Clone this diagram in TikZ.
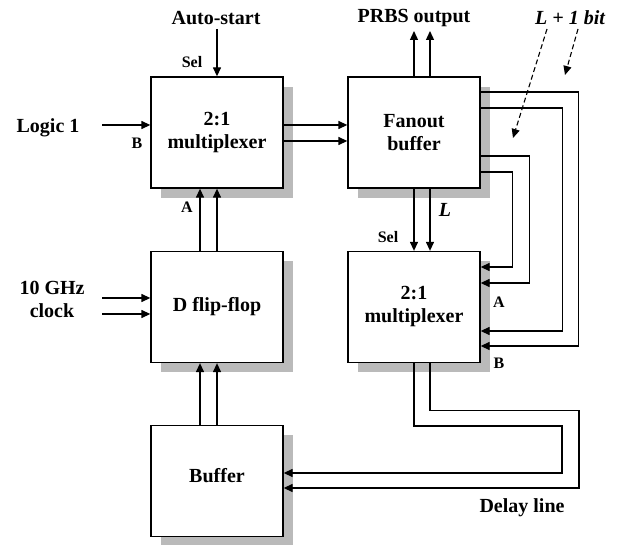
\documentclass[tikz,border=0pt]{standalone}
\usepackage{fontspec}
\setmainfont{Liberation Serif}
\usetikzlibrary{arrows.meta,shadows}
\begin{document}
\begin{tikzpicture}[x=1pt,y=-1pt,
  blk/.style={draw, line width=1.3pt, fill=white, minimum width=132pt, minimum height=111pt, inner sep=0pt,
    align=center, font=\fontsize{20}{23}\selectfont\bfseries,
    general shadow={fill=black!27, shadow xshift=10pt, shadow yshift=-10pt}},
  lbl/.style={font=\fontsize{20}{23}\selectfont\bfseries, align=center, inner sep=0pt},
  slbl/.style={font=\fontsize{16}{18}\selectfont\bfseries, inner sep=0pt},
  wire/.style={line width=1.3pt},
  arr/.style={line width=1.3pt, -{Triangle[length=9pt,width=8pt]}},
  darr/.style={line width=1.1pt, dashed, dash pattern=on 5pt off 3pt, -{Triangle[length=9pt,width=8pt]}}
]
\useasboundingbox (0,0) rectangle (619,545);

% blocks
\node[blk] (mux1) at (217,132.5) {2:1\\multiplexer};
\node[blk] (fan)  at (414,132.5) {Fanout\\buffer};
\node[blk] (dff)  at (217,307) {D flip-flop};
\node[blk] (mux2) at (414,307) {2:1\\multiplexer};
\node[blk] (buf)  at (217,481) {\raisebox{12pt}{Buffer}};

% texts
\node[lbl] (autos) at (216,18) {Auto-start};
\node[lbl] (prbs) at (414,18) {PRBS output};
\node[lbl] (lbit) at (570,18) {\itshape L + 1 bit};
\node[lbl] (logic) at (48,128) {Logic 1};
\node[lbl] (clk) at (52,299) {10 GHz\\clock};
\node[lbl] (dl) at (522,508) {Delay line};
\node[lbl] (lL) at (445,210) {\itshape L};
\node[slbl] (sel1) at (192,62) {Sel};
\node[slbl] (b1) at (137,143) {B};
\node[slbl] (a1) at (187,207) {A};
\node[slbl] (sel2) at (388,237) {Sel};
\node[slbl] (a2) at (499,302) {A};
\node[slbl] (b2) at (499,363) {B};

% free ends
\coordinate (autoend) at (217,29);
\coordinate (logicend) at (102,125);
\coordinate (clk1) at (102,298);
\coordinate (clk2) at (102,314);
\coordinate (prbs1) at (414,31);
\coordinate (prbs2) at (430,31);
\coordinate (d1s) at (547,29);
\coordinate (d1e) at (513,138);
\coordinate (d2s) at (578,29);
\coordinate (d2e) at (565,75);

% inputs
\draw[arr] (autoend) -- (mux1.north);
\draw[arr] (logicend) -- ([yshift=7.5pt]mux1.west);
\draw[arr] (clk1) -- ([yshift=9pt]dff.west);
\draw[arr] (clk2) -- ([yshift=-7pt]dff.west);

% mux1 -> fanout
\draw[arr] ([yshift=7.5pt]mux1.east) -- ([yshift=7.5pt]fan.west);
\draw[arr] ([yshift=-8.5pt]mux1.east) -- ([yshift=-8.5pt]fan.west);

% dff -> mux1
\draw[arr] ([xshift=-17pt]dff.north) -- ([xshift=-17pt]mux1.south);
\draw[arr] (dff.north) -- (mux1.south);

% buffer -> dff
\draw[arr] ([xshift=-17pt]buf.north) -- ([xshift=-17pt]dff.south);
\draw[arr] (buf.north) -- (dff.south);

% fanout -> PRBS
\draw[arr] (fan.north) -- (prbs1);
\draw[arr] ([xshift=16pt]fan.north) -- (prbs2);

% fanout -> mux2 (sel / L)
\draw[arr] (fan.south) -- (mux2.north);
\draw[arr] ([xshift=16pt]fan.south) -- ([xshift=16pt]mux2.north);

% fanout -> mux2 right side
\draw[wire,-{Triangle[length=9pt,width=8pt]}] ([yshift=40.5pt]fan.east) -- ++(98,0) |- ([yshift=-39pt]mux2.east);
\draw[wire,-{Triangle[length=9pt,width=8pt]}] ([yshift=24.5pt]fan.east) -- ++(82,0) |- ([yshift=-24pt]mux2.east);
\draw[wire,-{Triangle[length=9pt,width=8pt]}] ([yshift=-23.5pt]fan.east) -- ++(49,0) |- ([yshift=24pt]mux2.east);
\draw[wire,-{Triangle[length=9pt,width=8pt]}] ([yshift=-39.5pt]fan.east) -- ++(32,0) |- ([yshift=40pt]mux2.east);

% delay line
\draw[wire,-{Triangle[length=9pt,width=8pt]}] (mux2.south) -- ++(0,63) -- ++(148,0) |- ([yshift=8pt]buf.east);
\draw[wire,-{Triangle[length=9pt,width=8pt]}] ([xshift=16pt]mux2.south) -- ++(0,47.5) -- ++(149,0) |- ([yshift=-7pt]buf.east);

% dashed pointers
\draw[darr] (d1s) -- (d1e);
\draw[darr] (d2s) -- (d2e);
\end{tikzpicture}
\end{document}
